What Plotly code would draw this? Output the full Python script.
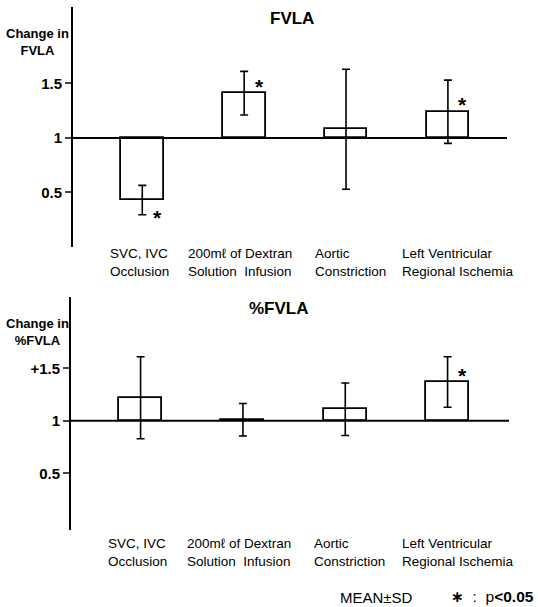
import plotly.graph_objects as go

W, H = 538, 607

categories = ["SVC,IVC", "Dextran", "Aortic", "LV"]
cat_labels = ["SVC, IVC<br>Occlusion", "200mℓ of Dextran<br>Solution&nbsp; Infusion",
              "Aortic<br>Constriction", "Left Ventricular<br>Regional Ischemia"]

fvla_mean = [0.43, 1.41, 1.08, 1.24]
fvla_sd = [0.135, 0.20, 0.55, 0.29]
fvla_sig = [True, True, False, True]

pfvla_mean = [1.22, 1.01, 1.11, 1.37]
pfvla_sd = [0.39, 0.155, 0.25, 0.24]
pfvla_sig = [False, False, False, True]

tick_vals = [0.5, 1, 1.5]
fvla_ticks = ["0.5", "1", "1.5"]
pfvla_ticks = ["0.5", "1", "+1.5"]

# style: horizontal nudges (px) of the category label blocks
label_dx = [-3, -4, 4, 10]

FONT = "Liberation Sans, Arial, sans-serif"
FOOT = "Liberation Sans, DejaVu Sans, sans-serif"


def py(px):
    return 1 - px / H


def px_x(px):
    return px / W


fig = go.Figure()

panels = [
    dict(mean=fvla_mean, sd=fvla_sd, sig=fvla_sig, ticks=fvla_ticks, xa="x", ya="y",
         dom_y=[py(247), py(7)], yr=[0, 2.2], title="FVLA", title_xy=(292, 18),
         ytitle="Change in<br>FVLA", ytitle_xy=(37, 24), lab_y=244),
    dict(mean=pfvla_mean, sd=pfvla_sd, sig=pfvla_sig, ticks=pfvla_ticks, xa="x2", ya="y2",
         dom_y=[py(530), py(297)], yr=[-0.04, 2.18], title="%FVLA", title_xy=(279, 308),
         ytitle="Change in<br>%FVLA", ytitle_xy=(37, 314), lab_y=534),
]

annotations = []
shapes = []
for i, p in enumerate(panels):
    heights = [m - 1 for m in p["mean"]]
    fig.add_trace(go.Bar(
        x=categories, y=heights, base=1, width=0.42,
        marker=dict(color="white", line=dict(color="black", width=1.8)),
        error_y=dict(type="data", array=p["sd"], color="black", thickness=1.6, width=4),
        xaxis=p["xa"], yaxis=p["ya"], showlegend=False, hoverinfo="skip",
    ))
    shapes.append(dict(type="line", xref=p["xa"] + " domain", yref=p["ya"],
                       x0=0, x1=1, y0=1, y1=1, line=dict(color="black", width=2)))
    for c, m, s in zip(categories, p["mean"], p["sig"]):
        if s:
            yy = m - 0.11 if m < 1 else m + 0.11
            annotations.append(dict(x=c, y=yy, xref=p["xa"], yref=p["ya"], text="<b>*</b>",
                                    showarrow=False, xshift=15, yshift=-5,
                                    font=dict(family=FONT, size=21, color="black")))
    for c, lab, dx in zip(categories, cat_labels, label_dx):
        annotations.append(dict(x=c, y=py(p["lab_y"]), xref=p["xa"], yref="paper",
                                text=lab, showarrow=False, xanchor="center", yanchor="top",
                                align="left", xshift=dx,
                                font=dict(family=FONT, size=13.5, color="black")))
    annotations.append(dict(x=px_x(p["title_xy"][0]), y=py(p["title_xy"][1]), xref="paper",
                            yref="paper", text="<b>" + p["title"] + "</b>", showarrow=False,
                            xanchor="center", yanchor="middle",
                            font=dict(family=FONT, size=17, color="black")))
    annotations.append(dict(x=px_x(p["ytitle_xy"][0]), y=py(p["ytitle_xy"][1]), xref="paper",
                            yref="paper", text="<b>" + p["ytitle"] + "</b>", showarrow=False,
                            xanchor="center", yanchor="top", align="center",
                            font=dict(family=FONT, size=13, color="black")))

annotations.append(dict(x=px_x(415), y=py(597), xref="paper", yref="paper",
                        text="MEAN±SD", showarrow=False,
                        xanchor="right", yanchor="middle",
                        font=dict(family=FONT, size=15, color="black")))
annotations.append(dict(x=px_x(536), y=py(596), xref="paper", yref="paper",
                        text="<b>∗</b>&nbsp;&nbsp;:&nbsp;&nbsp;p<b><</b><b>0.05</b>",
                        showarrow=False, xanchor="right", yanchor="middle",
                        font=dict(family=FOOT, size=15.5, color="black")))

axis_common = dict(showgrid=False, zeroline=False)
fig.update_layout(
    width=W, height=H, margin=dict(l=0, r=0, t=0, b=0),
    paper_bgcolor="white", plot_bgcolor="white",
    font=dict(family=FONT, color="black"),
    xaxis=dict(domain=[px_x(73), px_x(507)], range=[-0.68, 3.58], showticklabels=False,
               showline=False, ticks="", anchor="y", **axis_common),
    xaxis2=dict(domain=[px_x(71), px_x(509)], range=[-0.68, 3.6], showticklabels=False,
                showline=False, ticks="", anchor="y2", **axis_common),
    yaxis=dict(domain=panels[0]["dom_y"], range=panels[0]["yr"], tickvals=tick_vals,
               ticktext=["<b>%s</b>" % t for t in fvla_ticks], ticks="outside", ticklen=6,
               tickwidth=1.6, showline=True, linewidth=2, linecolor="black", anchor="x",
               tickfont=dict(family=FONT, size=15, color="black"), **axis_common),
    yaxis2=dict(domain=panels[1]["dom_y"], range=panels[1]["yr"], tickvals=tick_vals,
                ticktext=["<b>%s</b>" % t for t in pfvla_ticks], ticks="outside", ticklen=6,
                tickwidth=1.6, showline=True, linewidth=2, linecolor="black", anchor="x2",
                tickfont=dict(family=FONT, size=15, color="black"), **axis_common),
    annotations=annotations, shapes=shapes, bargap=0,
)

fig.write_html("out.html", config={"displayModeBar": False},
               post_script="document.body.style.margin='0';")
